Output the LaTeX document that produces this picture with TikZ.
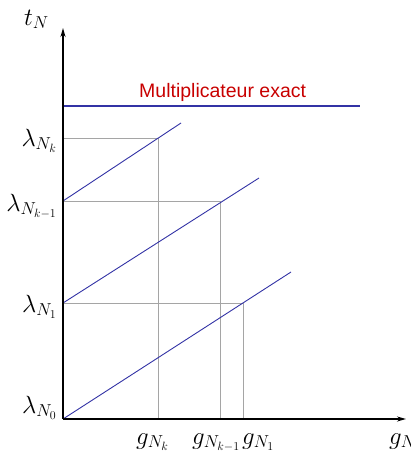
\documentclass[tikz,border=0pt]{standalone}
\usepackage{fontspec}
\newfontfamily\labfont{Liberation Sans}
\usetikzlibrary{arrows.meta}
\definecolor{lineblue}{RGB}{50,50,165}
\definecolor{textred}{RGB}{200,0,0}
\definecolor{guidegray}{RGB}{165,165,165}
\tikzset{
  axis/.style={black,line width=2.4pt,-{Stealth[length=9pt,width=5pt]}},
  diag/.style={lineblue,line width=0.9pt},
  guide/.style={guidegray,line width=1pt},
  exactline/.style={lineblue,line width=2pt},
  mlab/.style={inner sep=0pt,font=\fontsize{24}{28}\selectfont},
}
\begin{document}
\begin{tikzpicture}[x=1pt,y=-1pt]
\useasboundingbox (0,0) rectangle (410,455);
% key coordinates
\coordinate (O) at (63,419);
\coordinate (Ytip) at (63,28);
\coordinate (Xtip) at (406,419);
\coordinate (L1) at (63,303);
\coordinate (L2) at (63,201);
\coordinate (L3) at (63,138);
\coordinate (E1) at (291,272);
\coordinate (E2) at (259,178);
\coordinate (E3) at (181,123);
\coordinate (P1) at (243,303);
\coordinate (P2) at (220,201);
\coordinate (P3) at (158,138);
\coordinate (B1) at (243,419);
\coordinate (B2) at (220,419);
\coordinate (B3) at (158,419);
\coordinate (XA) at (63,106);
\coordinate (XB) at (360,106);
% guide lines
\draw[guide] (L1) -- (P1) -- (B1);
\draw[guide] (L2) -- (P2) -- (B2);
\draw[guide] (L3) -- (P3) -- (B3);
% diagonals
\draw[diag] (O) -- (E1);
\draw[diag] (L1) -- (E2);
\draw[diag] (L2) -- (E3);
% exact multiplier
\draw[exactline] (XA) -- (XB);
\node[inner sep=0pt,anchor=base west,text=textred,font=\labfont\fontsize{19.5}{22}\selectfont] (mult) at (139,97) {Multiplicateur exact};
% axes
\draw[axis] (O) -- (Ytip);
\draw[axis] (O) -- (Xtip);
% labels
\node[mlab,anchor=base west] (tN) at (24,25) {$t_N$};
\node[mlab,anchor=base east] (lk) at (57,146) {$\lambda_{N_k}$};
\node[mlab,anchor=base east] (lk1) at (57,211) {$\lambda_{N_{k-1}}$};
\node[mlab,anchor=base east] (l1) at (57,312) {$\lambda_{N_1}$};
\node[mlab,anchor=base east] (l0) at (57,413) {$\lambda_{N_0}$};
\node[mlab,anchor=base west] (gk) at (136,444) {$g_{N_k}$};
\node[mlab,anchor=base west] (gk1) at (192,444) {$g_{N_{k-1}}$};
\node[mlab,anchor=base west] (g1) at (242,444) {$g_{N_1}$};
\node[mlab,anchor=base west] (gN) at (389,444) {$g_N$};
\end{tikzpicture}
\end{document}
